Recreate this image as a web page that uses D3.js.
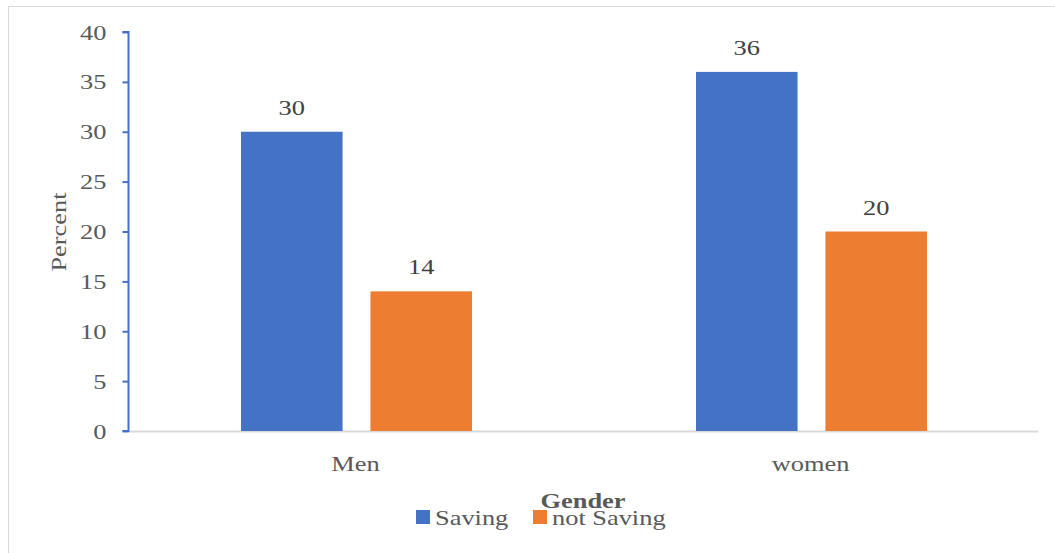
<!DOCTYPE html>
<html>
<head>
<meta charset="utf-8">
<script src="https://d3js.org/d3.v7.min.js"></script>
<style>
  body { margin: 0; background: #fff; }
  text { font-family: "Liberation Serif", "Times New Roman", serif; }
</style>
</head>
<body>
<script>
// data
var categories = ['Men', 'women']
var series = ['Saving', 'not Saving']
var saving = [30, 36]
var notSaving = [14, 20]
var yTicks = [0, 5, 10, 15, 20, 25, 30, 35, 40]
var colors = ['#4472C4', '#ED7D31']

var W = 1055, H = 553
var plotL = 128, plotR = 1038, plotT = 32, plotB = 431
var sx = 1.2   // text in the picture is drawn wide

var svg = d3.select('body').append('svg')
  .attr('width', W).attr('height', H)

// chart frame
svg.append('rect')
  .attr('x', 8.5).attr('y', 6.5)
  .attr('width', 1060).attr('height', 560)
  .attr('fill', '#fff').attr('stroke', '#d9d9d9')

var y = d3.scaleLinear().domain([0, 40]).range([plotB, plotT])
var x0 = d3.scaleBand().domain(categories).range([plotL, plotR])
var bw = x0.bandwidth()
var x1 = d3.scaleBand().domain(series).range([113, bw - 111]).paddingInner(0.2154)

var rows = categories.map(function(c, i) {
  return { cat: c, vals: [saving[i], notSaving[i]] }
})

// x axis line
svg.append('line')
  .attr('x1', plotL).attr('x2', plotR)
  .attr('y1', plotB + 0.5).attr('y2', plotB + 0.5)
  .attr('stroke', '#d9d9d9').attr('stroke-width', 2)

// bars
var g = svg.selectAll('g.cat').data(rows).enter().append('g')
  .attr('class', 'cat')
  .attr('transform', function(d) { return 'translate(' + x0(d.cat) + ',0)' })

g.selectAll('rect').data(function(d) {
  return d.vals.map(function(v, i) { return { s: series[i], v: v, i: i } })
}).enter().append('rect')
  .attr('x', function(d) { return x1(d.s) })
  .attr('width', x1.bandwidth())
  .attr('y', function(d) { return y(d.v) })
  .attr('height', function(d) { return plotB - y(d.v) })
  .attr('fill', function(d) { return colors[d.i] })

// value labels
g.selectAll('text.val').data(function(d) {
  return d.vals.map(function(v, i) { return { s: series[i], v: v } })
}).enter().append('text')
  .attr('class', 'val')
  .attr('transform', function(d) {
    return 'translate(' + (x1(d.s) + x1.bandwidth() / 2) + ',' + (y(d.v) - 17) + ') scale(' + sx + ',1)'
  })
  .attr('text-anchor', 'middle')
  .attr('font-size', 22)
  .attr('fill', '#404040')
  .text(function(d) { return d.v })

// y axis
var yAxis = d3.axisLeft(y).tickValues(yTicks).tickSize(6).tickFormat(d3.format('d'))
var ya = svg.append('g').attr('transform', 'translate(' + (plotL + 0.5) + ',0)').call(yAxis)
ya.select('.domain').attr('stroke', '#4472C4').attr('stroke-width', 2)
  .attr('d', 'M-6,' + plotT + 'H0V' + plotB + 'H-6')
ya.selectAll('.tick line').attr('stroke', '#4472C4').attr('stroke-width', 2)
ya.selectAll('.tick text')
  .attr('x', 0).attr('dy', null)
  .attr('transform', 'translate(-22,7) scale(' + sx + ',1)')
  .attr('font-size', 22).attr('fill', '#595959')
  .attr('font-family', '"Liberation Serif", serif')

// category labels
svg.selectAll('text.catlab').data(categories).enter().append('text')
  .attr('class', 'catlab')
  .attr('transform', function(d) {
    return 'translate(' + (x0(d) + bw / 2) + ',471) scale(' + sx + ',1)'
  })
  .attr('text-anchor', 'middle')
  .attr('font-size', 22).attr('fill', '#595959')
  .text(function(d) { return d })

// axis titles
svg.append('text')
  .attr('transform', 'translate(66,232) rotate(-90) scale(1.2,1)')
  .attr('text-anchor', 'middle')
  .attr('font-size', 22).attr('fill', '#595959')
  .text('Percent')

svg.append('text')
  .attr('transform', 'translate(583,508) scale(' + sx + ',1)')
  .attr('text-anchor', 'middle')
  .attr('font-size', 22).attr('font-weight', 'bold').attr('fill', '#595959')
  .text('Gender')

// legend
var legX = [416, 533]
var leg = svg.selectAll('g.leg').data(series).enter().append('g')
  .attr('class', 'leg')
  .attr('transform', function(d, i) { return 'translate(' + legX[i] + ',510)' })
leg.append('rect')
  .attr('width', 14).attr('height', 14)
  .attr('fill', function(d, i) { return colors[i] })
leg.append('text')
  .attr('transform', 'translate(19,15) scale(' + sx + ',1)')
  .attr('font-size', 22).attr('fill', '#595959')
  .text(function(d) { return d })
</script>
</body>
</html>
